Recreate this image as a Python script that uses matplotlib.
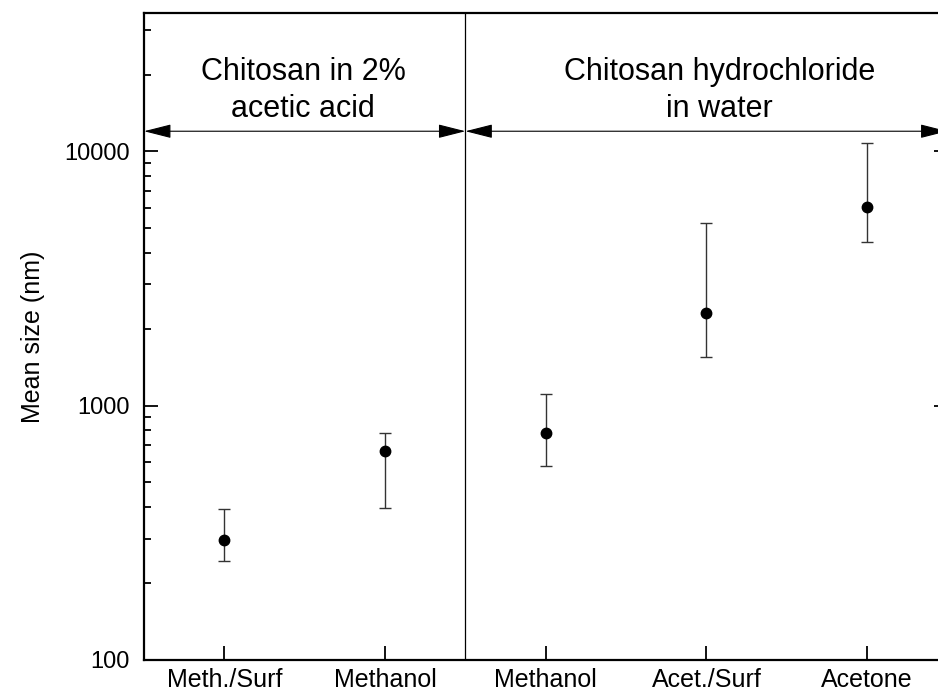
import matplotlib.pyplot as plt
from matplotlib.ticker import FixedLocator, LogLocator, NullFormatter

plt.rcParams['font.family'] = ['Liberation Sans', 'DejaVu Sans']

samples = ['Meth./Surf', 'Methanol', 'Methanol', 'Acet./Surf', 'Acetone']
mean_size = [297, 666, 783, 2320, 6050]
err_low = [244, 397, 581, 1557, 4405]
err_high = [394, 783, 1115, 5240, 10800]

groups = ['Chitosan in 2%\nacetic acid', 'Chitosan hydrochloride\nin water']
group_edges = [0.5, 2.5, 5.5]
group_text_x = [1.49, 4.08]
arrow_level = 12000
text_level = 17300

fig = plt.figure(figsize=(9.38, 6.98), dpi=100)
ax = fig.add_axes([144 / 938, 38 / 698, 803.5 / 938, 647 / 698])

x = list(range(1, len(samples) + 1))
yerr = [[m - lo for m, lo in zip(mean_size, err_low)],
        [hi - m for m, hi in zip(mean_size, err_high)]]
ax.errorbar(x, mean_size, yerr=yerr, fmt='o', color='black', ms=7.5,
            ecolor='#333333', elinewidth=1.0, capsize=4.5, capthick=1.0)

ax.set_yscale('log')
ax.set_ylim(100, 35000)
ax.set_xlim(0.5, 5.5)
ax.xaxis.set_major_locator(FixedLocator(x))
ax.set_xticklabels(samples)
ax.yaxis.set_major_locator(FixedLocator([100, 1000, 10000]))
ax.set_yticklabels(['100', '1000', '10000'])
ax.yaxis.set_minor_locator(LogLocator(base=10, subs=range(2, 10)))
ax.yaxis.set_minor_formatter(NullFormatter())

ax.tick_params(axis='both', which='major', direction='in', length=10,
               width=1.3)
ax.tick_params(axis='y', which='minor', direction='in', length=5, width=1.3)
ax.tick_params(axis='y', which='both', right=True)
ax.tick_params(axis='y', pad=10, labelsize=17)
ax.tick_params(axis='x', pad=6, labelsize=18)
for sp in ax.spines.values():
    sp.set_linewidth(1.6)

ax.set_ylabel('Mean size (nm)', fontsize=18, labelpad=14)

# group divider and double-headed arrows
ax.axvline(group_edges[1], color='black', lw=0.9)
for a, b in zip(group_edges[:-1], group_edges[1:]):
    ax.annotate('', xy=(b, arrow_level), xytext=(a, arrow_level),
                arrowprops=dict(arrowstyle='<|-|>,head_length=17,head_width=4.3',
                                mutation_scale=1, color='black', lw=0.8,
                                shrinkA=0, shrinkB=0))
for gx, label in zip(group_text_x, groups):
    ax.text(gx, text_level, label, ha='center', va='center', fontsize=22,
            linespacing=1.3, multialignment='center')

fig.savefig('out.png', dpi=100)
